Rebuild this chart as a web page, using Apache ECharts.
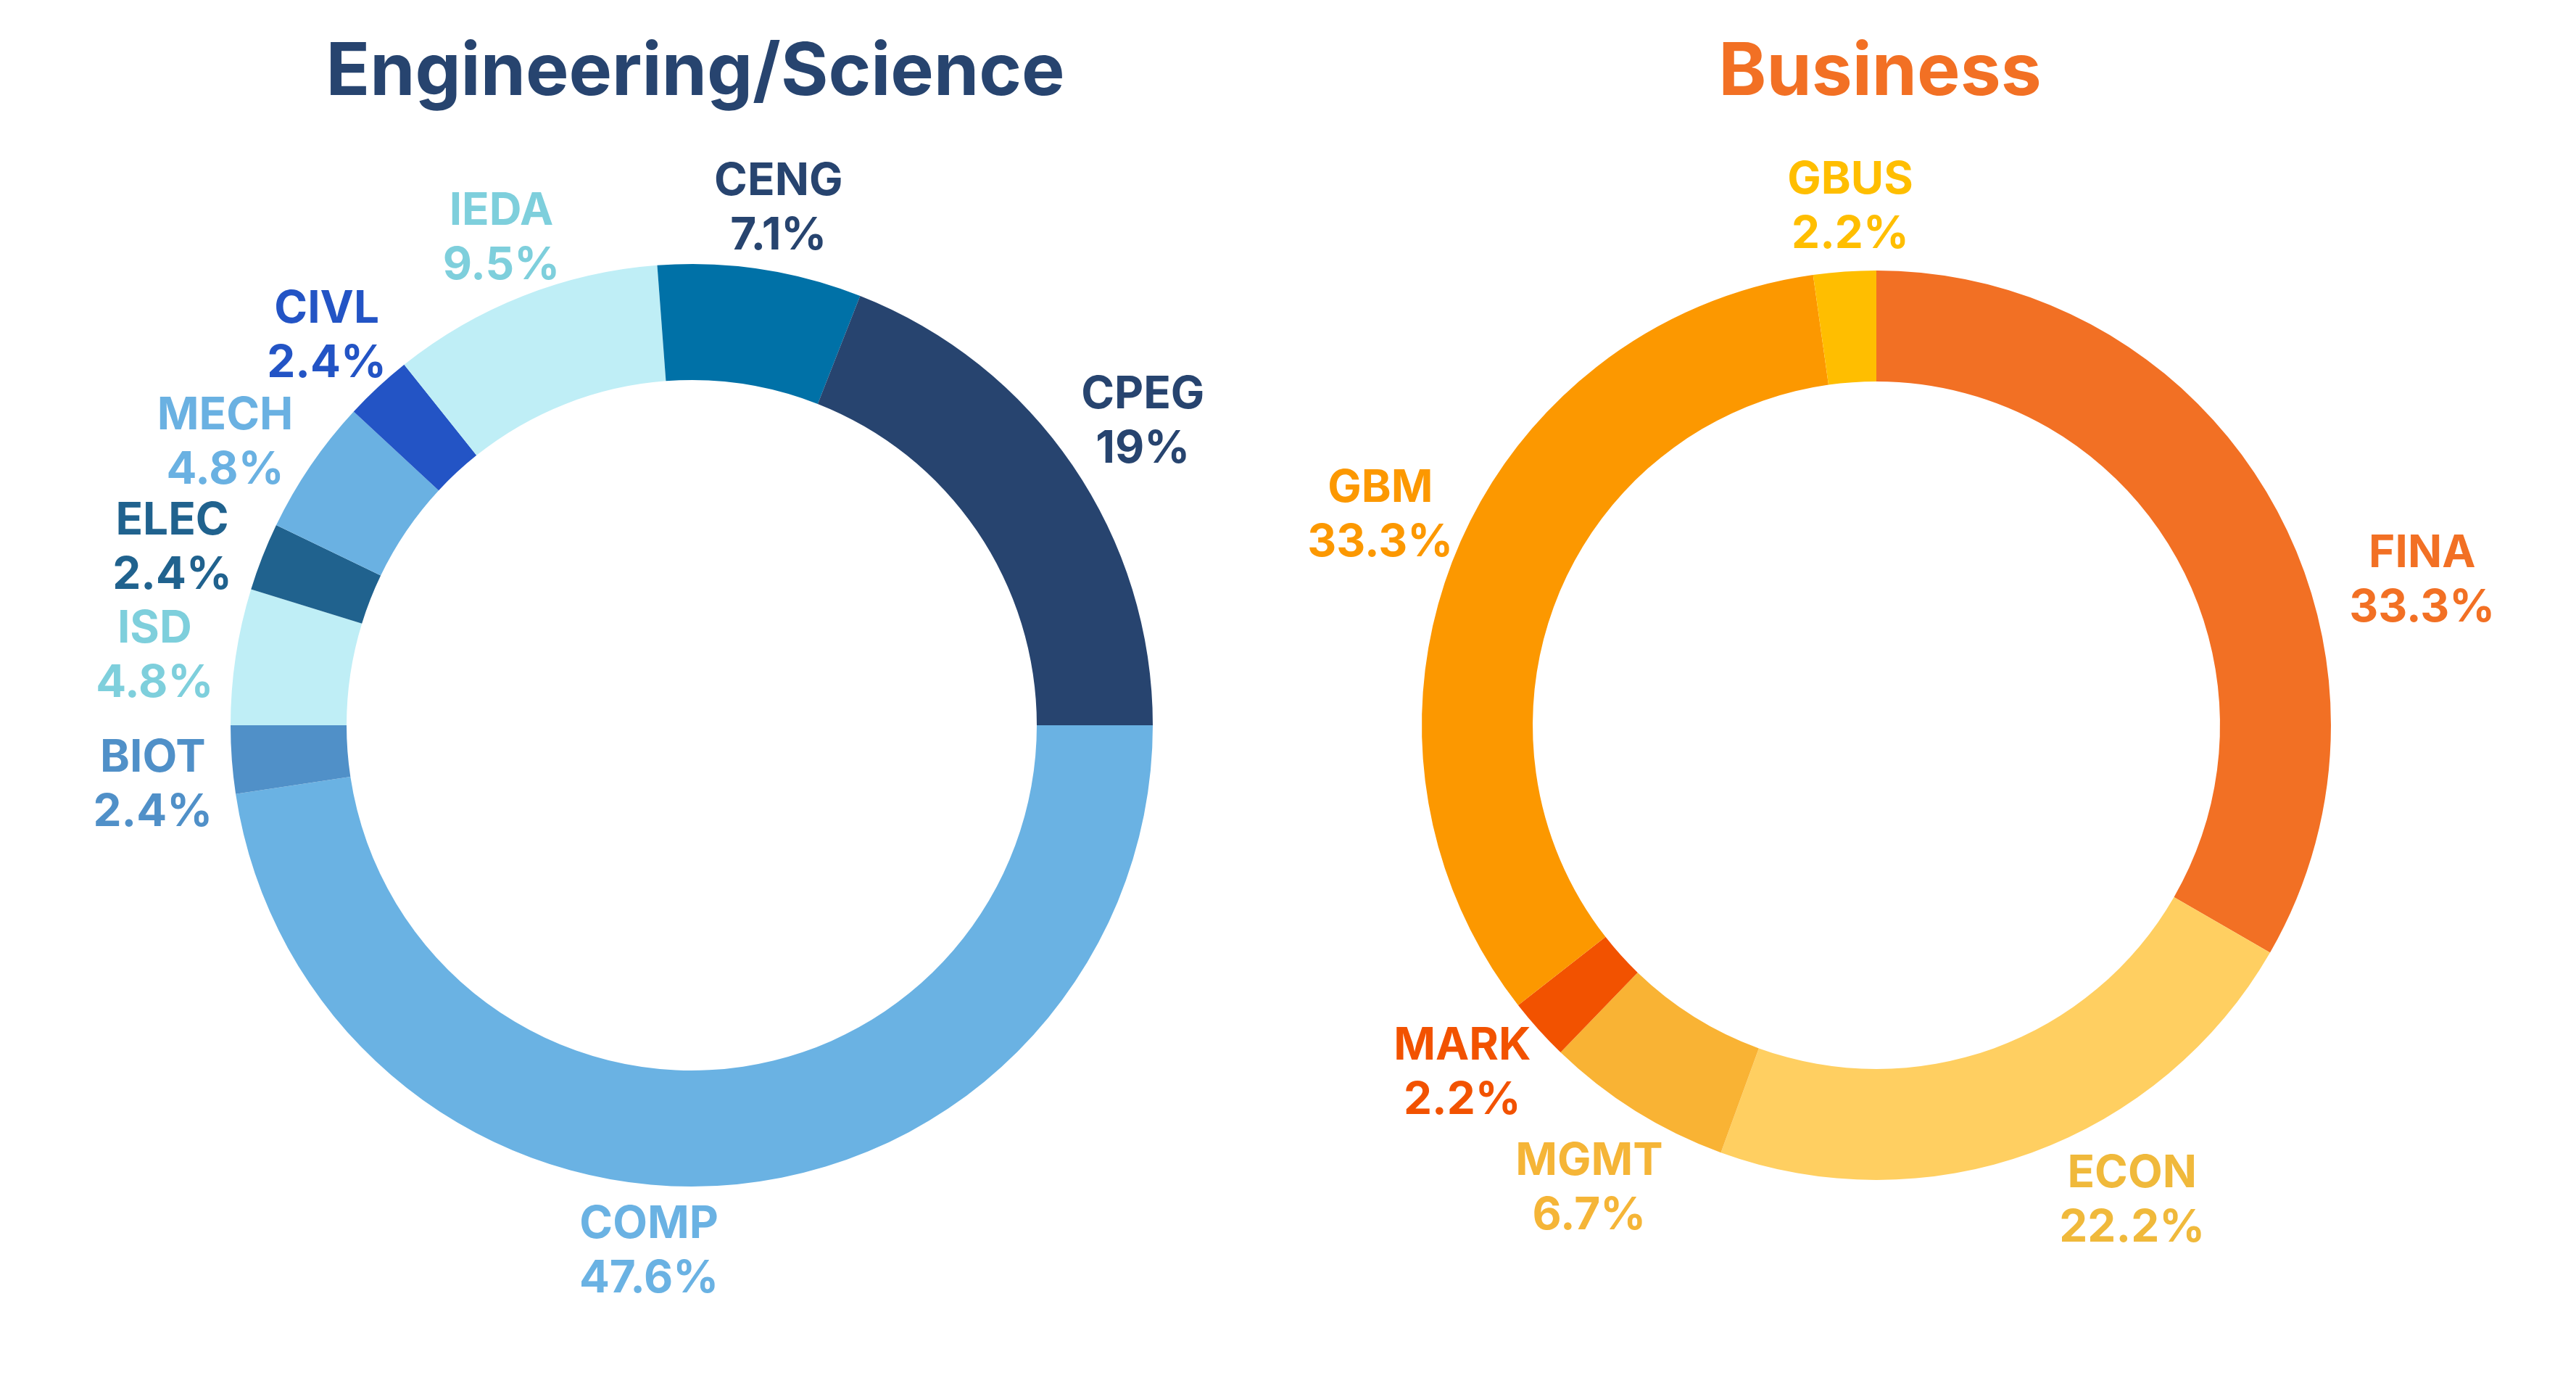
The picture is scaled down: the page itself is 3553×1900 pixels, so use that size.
<!DOCTYPE html>
<html>
<head>
<meta charset="utf-8">
<script src="https://cdn.jsdelivr.net/npm/echarts@6/dist/echarts.min.js"></script>
<style>
html,body{margin:0;padding:0;background:#fff;}
#c{width:3553px;height:1900px;}
</style>
</head>
<body>
<div id="c"></div>
<script>
// ---- Data ----
const engTitle = 'Engineering/Science';
const engNames = ['COMP', 'BIOT', 'ISD', 'ELEC', 'MECH', 'CIVL', 'IEDA', 'CENG', 'CPEG'];
const engValues = [20, 1, 2, 1, 2, 1, 4, 3, 8];

const busTitle = 'Business';
const busNames = ['FINA', 'ECON', 'MGMT', 'MARK', 'GBM', 'GBUS'];
const busValues = [15, 10, 3, 1, 15, 1];

// ---- Styles ----
const engColors = ['#6ab2e3', '#5090c8', '#bfeef6', '#20628e', '#6ab1e2', '#2354c5', '#bfeef6', '#0071a7', '#27446f'];
const engLabelColors = ['#6ab2e3', '#5090c8', '#7ecfdc', '#20628e', '#6ab1e2', '#2354c5', '#7ecfdc', '#27446f', '#27446f'];
const busColors = ['#f27024', '#ffcf61', '#f9b334', '#f25200', '#fc9800', '#ffbe00'];
const busLabelColors = ['#f27024', '#f0b93b', '#f5b537', '#f25200', '#fc9800', '#ffbe00'];
// small label offsets (px) applied after the radial placement
const labelNudge = {
  COMP: [-116, -15], FINA: [95, 168], ECON: [93, -34],
  CENG: [7, 23], IEDA: [11, 20], CIVL: [7, 9], MECH: [-14, 29], ELEC: [-18, 27],
  ISD: [0, 16], BIOT: [5, 27],
  GBUS: [16, 18], GBM: [20, -14], MARK: [-11, -11], MGMT: [7, 16]
};

const FONT = 'Inter, "Noto Sans", sans-serif';

function buildData(names, values, colors, labelColors) {
  return names.map((n, i) => ({
    name: n, value: values[i],
    itemStyle: { color: colors[i] },
    label: { color: labelColors[i] }
  }));
}

function makeFormatter(values) {
  const sum = values.reduce((a, b) => a + b, 0);
  return function (p) {
    let s = (p.value / sum * 100).toFixed(1);
    if (s.endsWith('.0')) s = s.slice(0, -2);
    return p.name + '\n' + s + '%';
  };
}

function makeLayout(names) {
  return function (p) {
    const pts = p.labelLinePoints;
    if (!pts) return {};
    const x0 = pts[0][0], y0 = pts[0][1];
    let ux = pts[1][0] - x0, uy = pts[1][1] - y0;
    const L = Math.hypot(ux, uy) || 1; ux /= L; uy /= L;
    const w = p.labelRect.width, h = p.labelRect.height;
    const g = 32;
    const nd = labelNudge[names[p.dataIndex]] || [0, 0];
    return {
      x: x0 + ux * g + ux * w / 2 + nd[0],
      y: y0 + uy * g + uy * h / 2 + nd[1],
      align: 'center', verticalAlign: 'middle'
    };
  };
}

function pieSeries(names, values, colors, labelColors, center, radius, startAngle) {
  return {
    type: 'pie',
    center: center,
    radius: radius,
    startAngle: startAngle,
    clockwise: true,
    avoidLabelOverlap: false,
    animation: false,
    silent: true,
    itemStyle: { borderWidth: 0 },
    label: {
      show: true,
      position: 'outside',
      formatter: makeFormatter(values),
      fontFamily: FONT,
      fontWeight: 'bold',
      fontSize: 62,
      lineHeight: 75,
      align: 'center'
    },
    labelLine: { show: true, length: 10, length2: 0, lineStyle: { width: 0, opacity: 0 } },
    labelLayout: makeLayout(names),
    data: buildData(names, values, colors, labelColors)
  };
}

const chart = echarts.init(document.getElementById('c'), null, { renderer: 'canvas' });
chart.setOption({
  backgroundColor: '#ffffff',
  animation: false,
  title: [
    { text: engTitle, left: 954, top: 96, textAlign: 'center', textVerticalAlign: 'middle',
      textStyle: { fontFamily: FONT, fontWeight: 'bold', fontSize: 100, color: '#27446f' } },
    { text: busTitle, left: 2588, top: 96, textAlign: 'center', textVerticalAlign: 'middle',
      textStyle: { fontFamily: FONT, fontWeight: 'bold', fontSize: 100, color: '#f27024' } }
  ],
  series: [
    pieSeries(engNames, engValues, engColors, engLabelColors, [954, 1000], [476, 636], 0),
    pieSeries(busNames, busValues, busColors, busLabelColors, [2588, 1000], [474, 627], 90)
  ]
});
</script>
</body>
</html>
